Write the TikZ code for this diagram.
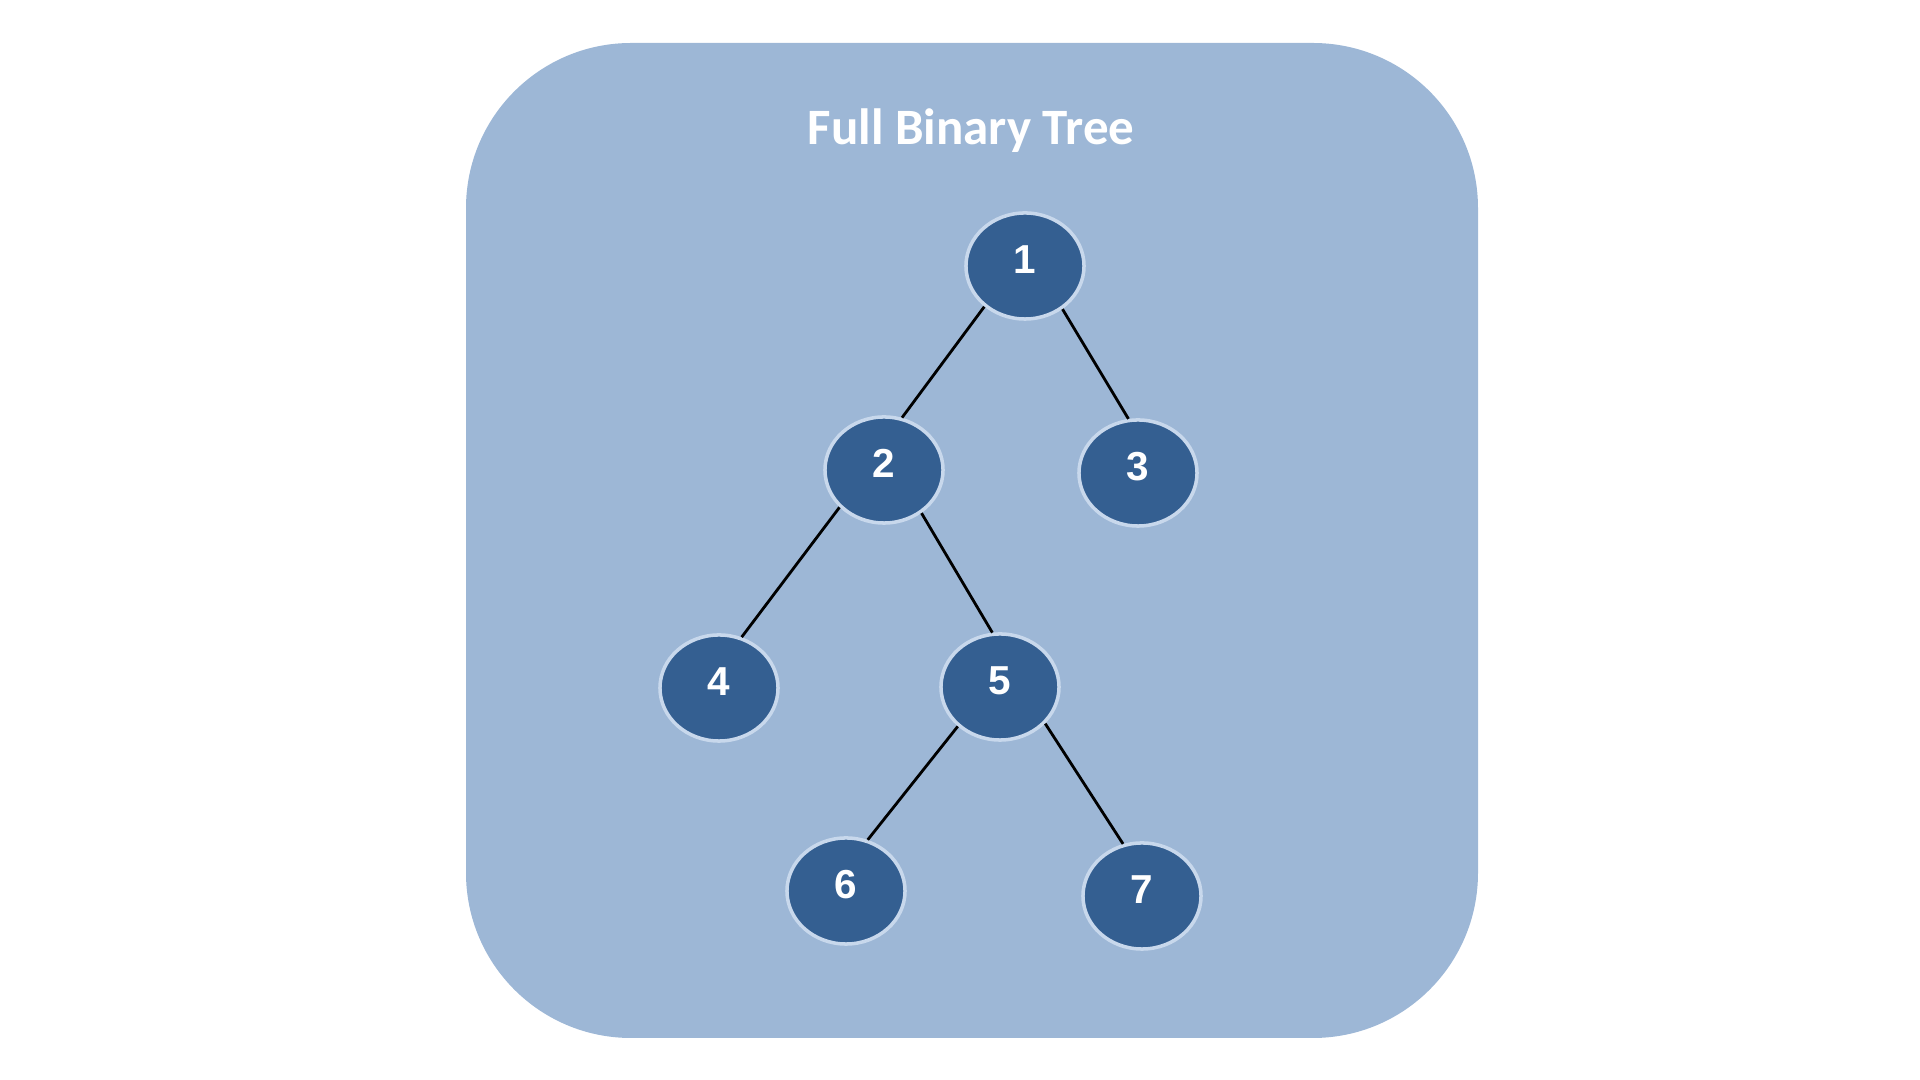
\documentclass[tikz,border=0pt]{standalone}
\usepackage{fontspec}
\setmainfont{Liberation Sans}
\newfontfamily\titlefont{Carlito}
\usetikzlibrary{shapes.geometric}

\definecolor{panelblue}{RGB}{157,183,214}
\definecolor{nodeblue}{RGB}{52,95,145}
\definecolor{rimblue}{RGB}{200,216,236}

\begin{document}
\begin{tikzpicture}[x=0.01cm, y=-0.01cm]
		% Estilos para el panel, los nodos y las aristas
		\tikzset{
			panel/.style={
					fill=panelblue, draw=none, rounded corners=1.65cm
				},
			treenode/.style={
					ellipse, draw=rimblue, line width=1pt, fill=nodeblue,
					minimum width=1.18cm, minimum height=1.06cm, inner sep=0pt,
					text height=8.2pt, text depth=4pt,
					text=white, font=\bfseries\fontsize{11.5}{13}\selectfont
				},
			edge/.style={
					draw, black, line width=0.8pt
				}
		}

		\useasboundingbox (0,0) rectangle (1920,1080);

		% Fondo redondeado y titulo
		\fill[panel] (466,43) rectangle (1478,1038);
		\node[text=white, font=\titlefont\bfseries\fontsize{14.5}{17}\selectfont] (title) at (971,131) {Full Binary Tree};

		% Nodos del arbol
		\node[treenode] (n1) at (1025,266) {1};
		\node[treenode] (n2) at (884,470) {2};
		\node[treenode] (n3) at (1138,473) {3};
		\node[treenode] (n4) at (719,688) {4};
		\node[treenode] (n5) at (1000,687) {5};
		\node[treenode] (n6) at (846,891) {6};
		\node[treenode] (n7) at (1142,896) {7};

		% Aristas entre padres e hijos
		\foreach \from/\a/\to/\b in {n1/225/n2/71, n1/311/n3/100, n2/220/n4/66,
				n2/311/n5/98, n5/223/n6/67, n5/321/n7/110} {
				\draw[edge] (\from.\a) -- (\to.\b);
			}
	\end{tikzpicture}
\end{document}
